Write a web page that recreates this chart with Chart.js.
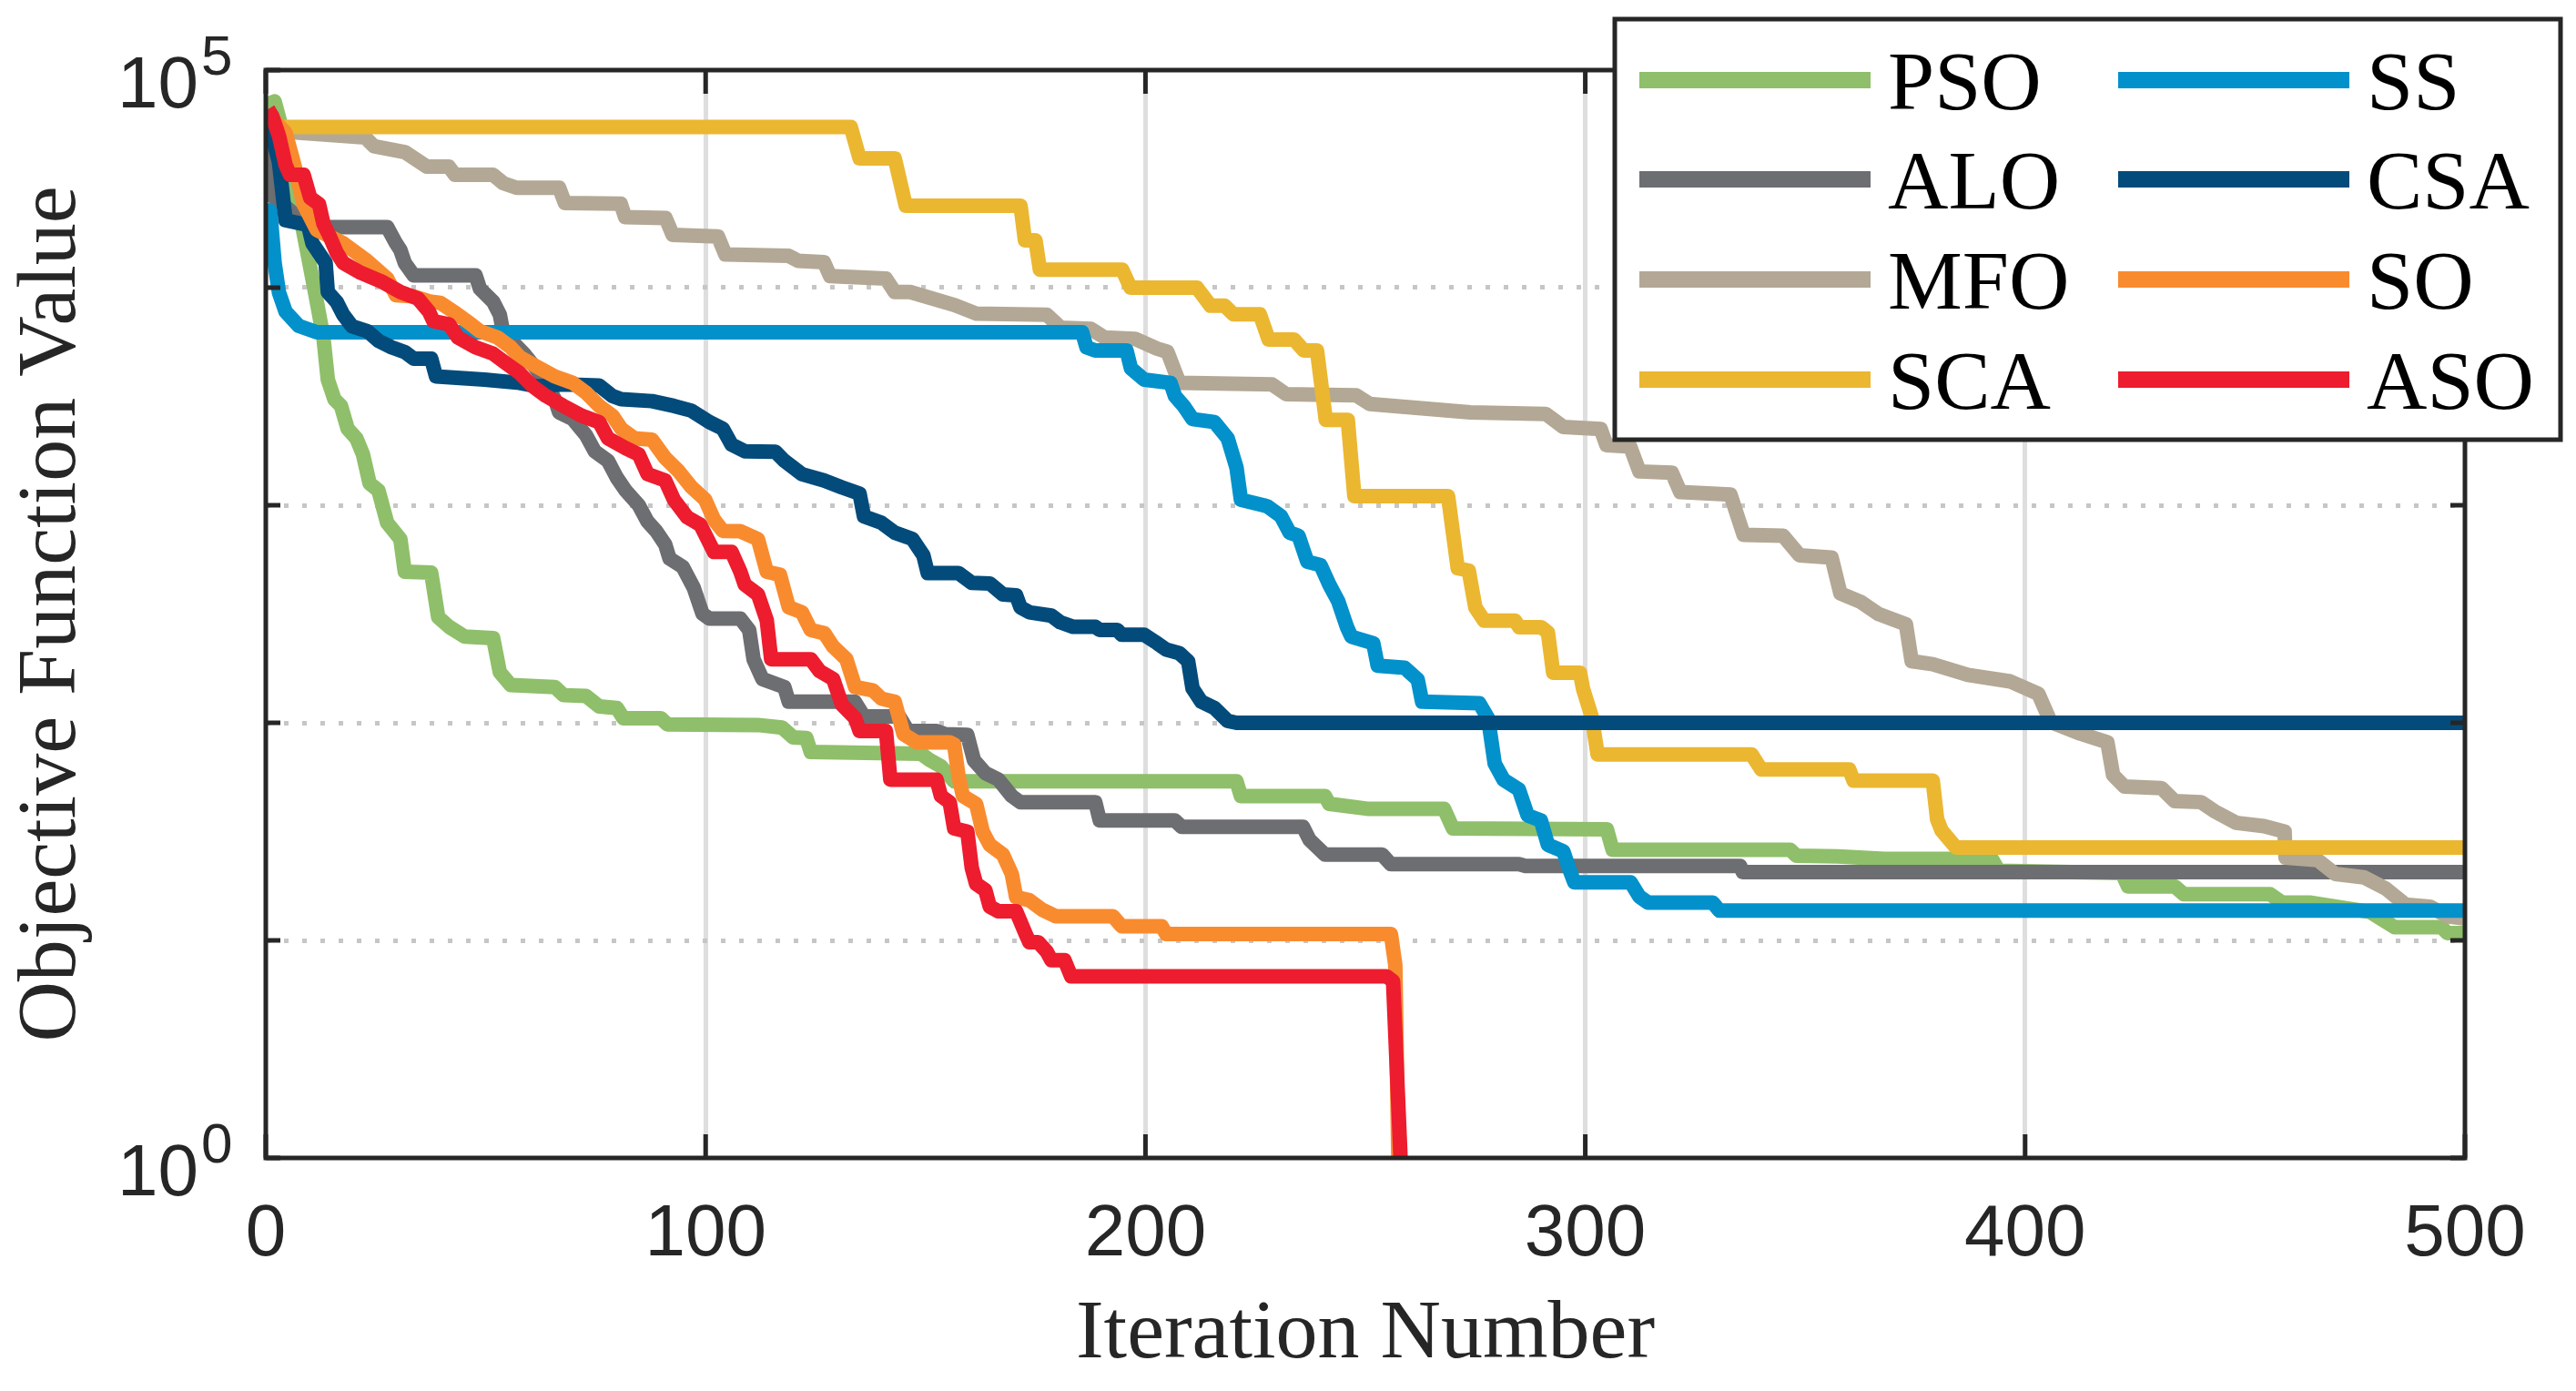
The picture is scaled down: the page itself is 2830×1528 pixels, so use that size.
<!DOCTYPE html>
<html lang="en">
<head>
<meta charset="UTF-8">
<title>Convergence curves</title>
<style>
  body { margin: 0; padding: 0; background: #ffffff; overflow: hidden; }
  canvas { display: block; }
</style>
<script src="https://cdn.jsdelivr.net/npm/chart.js"></script>
</head>
<body>
<canvas id="convChart" width="2830" height="1528" style="width:2830px;height:1528px"></canvas>
<script>
// best objective value per iteration (breakpoints only)
const psoIter = [0, 2, 5.5, 7.6, 9.6, 11.6, 13.1, 14.1, 15.6, 17.1, 18.6, 20.6, 22.1, 23.6, 25.6, 27.6, 30.6, 31.6, 37.6, 39.2, 41.7, 45.2, 51.7, 53.2, 55.7, 65.7, 67.7, 72.8, 75.8, 79.8, 81.3, 89.8, 91.3, 111.9, 117.4, 119.9, 122.9, 123.9, 149, 151, 153.5, 156.5, 220.7, 221.7, 240.8, 241.8, 250.8, 267.9, 269.9, 304.9, 306.2, 346.6, 348, 357.4, 368, 392.4, 394, 422, 423.4, 434, 436.1, 455.7, 458.4, 465, 478.5, 484, 494.7, 496, 500];
const psoVal = [69200, 71800, 39200, 22600, 14000, 8610, 5900, 3780, 3070, 2860, 2250, 2030, 1710, 1260, 1170, 830, 698, 495, 490, 306, 276, 249, 245, 171, 149, 146, 134, 133, 119, 117, 105, 105, 98.4, 97.7, 95.1, 85.7, 85.1, 73.5, 72.1, 67.3, 63.1, 53.8, 53.8, 46.1, 46.1, 42.4, 40.2, 40.2, 32.7, 32.4, 26.1, 26.1, 24.5, 24.3, 23.7, 23.7, 20.9, 20.4, 17.7, 17.7, 16.3, 16.3, 14.9, 14.9, 13.5, 11.5, 11.5, 10.8, 10.8];

const aloIter = [0, 1.5, 2, 6.5, 9.6, 13.6, 27.6, 29.6, 30.6, 31.6, 33.6, 47.7, 48.7, 51.7, 53.2, 54.2, 55.7, 58.7, 61.7, 63.7, 65.7, 66.7, 69.8, 72.8, 74.8, 77.8, 79.8, 81.8, 84.8, 86.8, 88.8, 90.8, 91.8, 94.8, 97.3, 99.3, 100.9, 107.9, 109.9, 110.9, 112.9, 117.9, 118.9, 133.9, 136, 144, 146, 152.5, 154.5, 159.5, 161, 163.6, 166.6, 169.6, 171.6, 188.6, 189.6, 206.7, 208.2, 235.8, 237.3, 240.8, 253.8, 255.8, 284.9, 286.4, 335.2, 335.8, 500];
const aloVal = [45700, 26300, 25900, 21800, 20400, 19000, 19000, 16000, 14900, 13000, 11400, 11400, 9890, 8610, 7520, 5900, 5750, 4970, 4180, 3650, 3070, 2670, 2490, 2100, 1770, 1600, 1340, 1170, 1000, 841, 759, 661, 569, 521, 417, 317, 301, 301, 267, 196, 159, 146, 125, 125, 107, 107, 91.8, 91.8, 88.7, 88.1, 67.3, 58.7, 54.8, 46.1, 43.1, 43.1, 35.6, 35.6, 33.3, 33.3, 29.0, 24.8, 24.8, 22.4, 22.4, 22.0, 22.0, 20.6, 20.6];

const mfoIter = [0, 3, 7.5, 22.6, 24.6, 31.6, 36.6, 41.6, 43, 51.7, 54, 57, 66.7, 68, 80.7, 81.7, 90.9, 92.5, 102.8, 104.5, 118.9, 121, 126.9, 128.3, 141, 143, 146.5, 156.6, 161.6, 177.6, 180.7, 187.6, 190.7, 197.6, 202.6, 205, 207.7, 228.8, 232, 247.9, 251, 273.9, 291, 295, 303.5, 304.8, 310.2, 312.3, 319.7, 321.6, 333, 336, 345, 348.7, 356, 358, 362.6, 366.7, 372.9, 374.2, 379, 387, 396.6, 403, 405.8, 412.6, 418.7, 420, 422.6, 431, 434, 440, 443, 448, 454.3, 459, 459.2, 466.5, 470.5, 477, 482, 486.5, 492, 496, 500];
const mfoVal = [57500, 52500, 51600, 49000, 44700, 42000, 36000, 36000, 33000, 33000, 30200, 28800, 28800, 24500, 24300, 21100, 20900, 17500, 17200, 14200, 14000, 13300, 13100, 11300, 11000, 9550, 9550, 8320, 7590, 7500, 6550, 6460, 5900, 5820, 5250, 5070, 3650, 3590, 3240, 3200, 2920, 2670, 2630, 2290, 2240, 1890, 1860, 1430, 1410, 1150, 1120, 731, 724, 589, 575, 393, 360, 316, 284, 192, 186, 166, 155, 136, 101, 89.1, 81.3, 57.5, 50.9, 50.1, 43.7, 43.2, 39.3, 34.7, 33.5, 31.6, 24.0, 23.4, 20.2, 19.5, 17.3, 14.6, 14.3, 12.9, 12.6];

const scaIter = [0, 133, 135, 143, 145.5, 171.6, 172.6, 175, 176, 194.7, 196.6, 211.7, 214.8, 218, 220, 226, 228, 233.8, 236, 239, 241, 246, 247.5, 268.8, 271, 273.5, 275, 277, 284, 285, 290, 291.5, 292.7, 298.8, 299.5, 301.5, 302.8, 337.8, 340, 360, 361, 379, 380, 381, 384.3, 500];
const scaVal = [54800, 54800, 39300, 39300, 23800, 23800, 16500, 16500, 12100, 12100, 10000, 10000, 8260, 8260, 7550, 7550, 5780, 5780, 5140, 5140, 2470, 2470, 1100, 1100, 513, 501, 339, 295, 295, 275, 275, 260, 170, 170, 143, 106, 71.6, 71.6, 61.0, 61.0, 54.2, 54.2, 36.0, 32, 26.7, 26.7];

const ssIter = [0, 1, 2, 3, 4.5, 7.5, 11.6, 185.6, 186.6, 188.6, 195.7, 196.7, 199.7, 205.7, 206.7, 208.7, 210.7, 215.7, 218.7, 220.7, 221.7, 226.8, 227.8, 230.8, 232.8, 234.8, 236.8, 239.8, 241.8, 243.8, 245.8, 246.8, 251.8, 252.8, 258.9, 261.9, 262.9, 275.9, 277.9, 279.4, 281.4, 284.9, 286.9, 289.9, 291.5, 295, 296.5, 297.5, 310.3, 312.3, 314.3, 329, 330.5, 500];
const ssVal = [22900, 22500, 13000, 9500, 7760, 6670, 6240, 6240, 5320, 5140, 5140, 4260, 3780, 3650, 3180, 2860, 2490, 2410, 2030, 1490, 1060, 1000, 986, 891, 748, 724, 550, 531, 432, 363, 276, 249, 232, 183, 179, 158, 125, 123, 105, 65.0, 54.8, 49.4, 37.5, 35.6, 27.5, 25.7, 20.9, 18.5, 18.5, 15.9, 14.9, 14.9, 13.7, 13.7];

const csaIter = [0, 3, 4.5, 9.6, 10.6, 13.6, 14.1, 16.1, 17.6, 19.6, 23.1, 25.6, 28.6, 31.6, 33.6, 37.6, 38.7, 49.7, 57.7, 61.7, 67.7, 75.8, 78.8, 80.8, 87.8, 92.8, 96.8, 100.9, 103.9, 105.9, 108.9, 115.9, 117.9, 121.9, 126.9, 130.9, 135, 136, 140, 143, 147, 149.5, 150.5, 157.5, 160.5, 164.6, 167.6, 170.6, 171.6, 173.6, 178.6, 180.6, 183.6, 188.6, 189.6, 193.6, 194.6, 199.7, 202.7, 204.7, 207.7, 209.7, 210.7, 212.7, 215.7, 218.7, 220.7, 500];
const csaVal = [64600, 37800, 20400, 19400, 16000, 13000, 9550, 8610, 7520, 6650, 6310, 5700, 5320, 5060, 4720, 4720, 3910, 3780, 3650, 3520, 3590, 3550, 3180, 3070, 3010, 2860, 2720, 2410, 2250, 1900, 1770, 1760, 1600, 1390, 1300, 1210, 1130, 889, 830, 748, 700, 589, 488, 488, 440, 437, 389, 385, 339, 322, 311, 290, 276, 276, 267, 267, 254, 254, 232, 217, 209, 192, 144, 125, 117, 102, 100, 100];

const soIter = [0.5, 4.5, 6.5, 8.6, 11.6, 17.6, 22.6, 27.6, 29.6, 33.6, 37.6, 39.7, 42.7, 45.7, 48.7, 52.7, 55.7, 57.7, 61.7, 65.7, 69.8, 72.8, 75.8, 78.8, 80.8, 83.8, 87.8, 90.8, 93.8, 96.8, 99.9, 101.9, 103.9, 107.9, 111.9, 113.9, 116.9, 118.9, 121.9, 123.9, 127, 129, 132, 134, 138, 140, 143, 145, 148, 155.5, 156.5, 157.5, 158.5, 161.5, 163, 164.6, 167.6, 169.6, 170.6, 173.6, 176.6, 179.6, 192.6, 194.6, 203.7, 204.7, 255.8, 256.8, 257.5];
const soVal = [63100, 51500, 36600, 24200, 18400, 16000, 13500, 11000, 9230, 9120, 8610, 8510, 7760, 7020, 6310, 5900, 5320, 4800, 4330, 3910, 3650, 3290, 2860, 2580, 2250, 2030, 2000, 1650, 1440, 1210, 1060, 859, 762, 759, 698, 495, 479, 340, 322, 267, 258, 224, 196, 146, 141, 129, 125, 88.7, 81.3, 81.3, 79.4, 56.8, 46.1, 42.4, 31.6, 27.5, 24.8, 20.2, 15.8, 15.3, 13.8, 12.9, 12.9, 11.6, 11.6, 10.7, 10.7, 7.71, 1];

const asoIter = [0.5, 1.5, 3, 4.5, 5.5, 8.6, 10.1, 12.1, 13.1, 14.6, 16.1, 17.6, 21.6, 26.6, 30.6, 34.6, 37.1, 38.1, 41.7, 43.7, 47.7, 51.7, 54.7, 57.7, 60.7, 63.7, 67.7, 71.8, 75.8, 77.8, 81.8, 84.8, 86.8, 90.8, 92.8, 95.8, 98.8, 101.9, 105.9, 107.9, 108.9, 111.9, 113.9, 114.9, 123.9, 125.9, 129, 131, 134, 135, 141, 142, 152.5, 153.5, 155.5, 156.5, 159.5, 160.5, 161.5, 163.6, 164.6, 166.6, 170.6, 172.6, 173.6, 175.6, 177.6, 178.6, 181.6, 183.1, 254.8, 256.3, 258];
const asoVal = [66100, 61200, 49800, 36600, 33000, 33000, 25900, 24200, 19700, 17100, 14500, 13000, 11700, 10600, 9550, 8910, 7760, 7020, 6780, 5900, 5320, 4970, 4480, 4050, 3520, 3180, 2860, 2580, 2410, 2030, 1830, 1710, 1390, 1300, 1060, 881, 813, 610, 610, 495, 432, 389, 296, 196, 196, 173, 159, 121, 105, 91.8, 91.8, 54.8, 54.8, 46.1, 43.1, 32.7, 31.6, 21.6, 18.2, 17.0, 14.3, 13.6, 13.6, 10.9, 9.82, 9.82, 8.85, 8.11, 8.11, 6.84, 6.84, 6.49, 1];

const algoNames = ['PSO', 'ALO', 'MFO', 'SCA', 'SS', 'CSA', 'SO', 'ASO'];
const algoColors = ['#8fbf6a', '#6d6e71', '#b3a895', '#ebb731', '#0291cb', '#034b7b', '#f98b2f', '#ed1c2f'];
const xTicks = [0, 100, 200, 300, 400, 500];
const yTicks = [1, 10, 100, 1000, 10000, 100000];
const yLabelValues = [1, 100000];
const yLabelExps = ['0', '5'];

const series = [
    [psoIter, psoVal], [aloIter, aloVal], [mfoIter, mfoVal], [scaIter, scaVal],
    [ssIter, ssVal], [csaIter, csaVal], [soIter, soVal], [asoIter, asoVal]
];

const INK = '#262626';

// box, inward ticks, 10^n labels and the two-column legend
const framePlugin = {
    id: 'frame',
    afterDraw(chart) {
        const { ctx, chartArea: a, scales: { x, y } } = chart;
        ctx.save();
        ctx.strokeStyle = INK;
        ctx.lineWidth = 5;
        ctx.lineCap = 'butt';
        ctx.setLineDash([]);
        ctx.beginPath();
        xTicks.forEach(v => {
            const px = x.getPixelForValue(v);
            ctx.moveTo(px, a.bottom); ctx.lineTo(px, a.bottom - 26);
            ctx.moveTo(px, a.top); ctx.lineTo(px, a.top + 26);
        });
        yTicks.forEach(v => {
            const py = y.getPixelForValue(v);
            ctx.moveTo(a.left, py); ctx.lineTo(a.left + 16, py);
            ctx.moveTo(a.right, py); ctx.lineTo(a.right - 16, py);
        });
        ctx.stroke();
        ctx.strokeRect(a.left, a.top, a.right - a.left, a.bottom - a.top);

        // y tick labels as 10 with a raised exponent
        ctx.fillStyle = INK;
        ctx.textBaseline = 'alphabetic';
        yLabelValues.forEach((v, i) => {
            const py = y.getPixelForValue(v);
            ctx.font = '80px "Liberation Sans", Arial, sans-serif';
            ctx.textAlign = 'right';
            ctx.fillText('10', a.left - 74, py + 41);
            ctx.font = '62px "Liberation Sans", Arial, sans-serif';
            ctx.textAlign = 'left';
            ctx.fillText(yLabelExps[i], a.left - 71, py + 5);
        });

        // legend
        const box = { left: 1774, top: 21, right: 2813, bottom: 483 };
        ctx.fillStyle = '#ffffff';
        ctx.fillRect(box.left, box.top, box.right - box.left, box.bottom - box.top);
        ctx.strokeStyle = INK;
        ctx.lineWidth = 5;
        ctx.strokeRect(box.left, box.top, box.right - box.left, box.bottom - box.top);
        const rowY = [88, 197, 307, 417];
        ctx.font = '92px "Liberation Serif", "Times New Roman", serif';
        ctx.textAlign = 'left';
        chart.data.datasets.forEach((ds, i) => {
            const col = Math.floor(i / 4);
            const ry = rowY[i % 4];
            const x0 = col ? 2327 : 1801;
            ctx.strokeStyle = ds.borderColor;
            ctx.lineWidth = 18;
            ctx.beginPath();
            ctx.moveTo(x0, ry);
            ctx.lineTo(x0 + 254, ry);
            ctx.stroke();
            ctx.fillStyle = '#000000';
            ctx.fillText(ds.label, col ? 2600 : 2074, ry + 32);
        });
        ctx.restore();
    }
};

const ctx = document.getElementById('convChart').getContext('2d');
const convChart = new Chart(ctx, {
    type: 'line',
    data: {
        datasets: algoNames.map((name, i) => ({
            label: name,
            data: series[i][0].map((it, k) => ({ x: it, y: series[i][1][k] })),
            borderColor: algoColors[i],
            backgroundColor: algoColors[i],
            order: algoNames.length - i
        }))
    },
    options: {
        responsive: false,
        animation: false,
        devicePixelRatio: 1,
        events: [],
        layout: { padding: { top: 77, right: 122, left: 0, bottom: 0 } },
        elements: {
            point: { radius: 0, hoverRadius: 0 },
            line: { borderWidth: 16, tension: 0, borderJoinStyle: 'round', borderCapStyle: 'butt', fill: false }
        },
        plugins: {
            legend: { display: false },
            tooltip: { enabled: false }
        },
        scales: {
            x: {
                type: 'linear',
                min: 0,
                max: 500,
                afterFit: s => { s.height = 256; },
                afterBuildTicks: s => { s.ticks = xTicks.map(v => ({ value: v })); },
                ticks: {
                    color: INK,
                    padding: 37,
                    maxRotation: 0,
                    font: { family: '"Liberation Sans", Arial, sans-serif', size: 80 }
                },
                grid: {
                    drawTicks: false,
                    lineWidth: 5,
                    color: c => (c.tick && (c.tick.value === 0 || c.tick.value === 500)) ? 'rgba(0,0,0,0)' : '#dedede'
                },
                border: { display: false },
                title: {
                    display: true,
                    text: 'Iteration Number',
                    color: INK,
                    padding: { top: 0, bottom: 6 },
                    font: { family: '"Liberation Serif", "Times New Roman", serif', size: 92 }
                }
            },
            y: {
                type: 'logarithmic',
                min: 1,
                max: 100000,
                afterFit: s => { s.width = 292; },
                afterBuildTicks: s => { s.ticks = yTicks.map(v => ({ value: v })); },
                ticks: { display: false },
                grid: {
                    drawTicks: false,
                    lineWidth: 5,
                    color: c => (c.tick && (c.tick.value === 1 || c.tick.value === 100000)) ? 'rgba(0,0,0,0)' : '#c6c6c6'
                },
                border: { display: false, dash: [5, 15] },
                title: {
                    display: true,
                    text: 'Objective Function Value',
                    color: INK,
                    padding: { top: 3, bottom: 0 },
                    font: { family: '"Liberation Serif", "Times New Roman", serif', size: 92 }
                }
            }
        }
    },
    plugins: [framePlugin]
});
</script>
</body>
</html>
